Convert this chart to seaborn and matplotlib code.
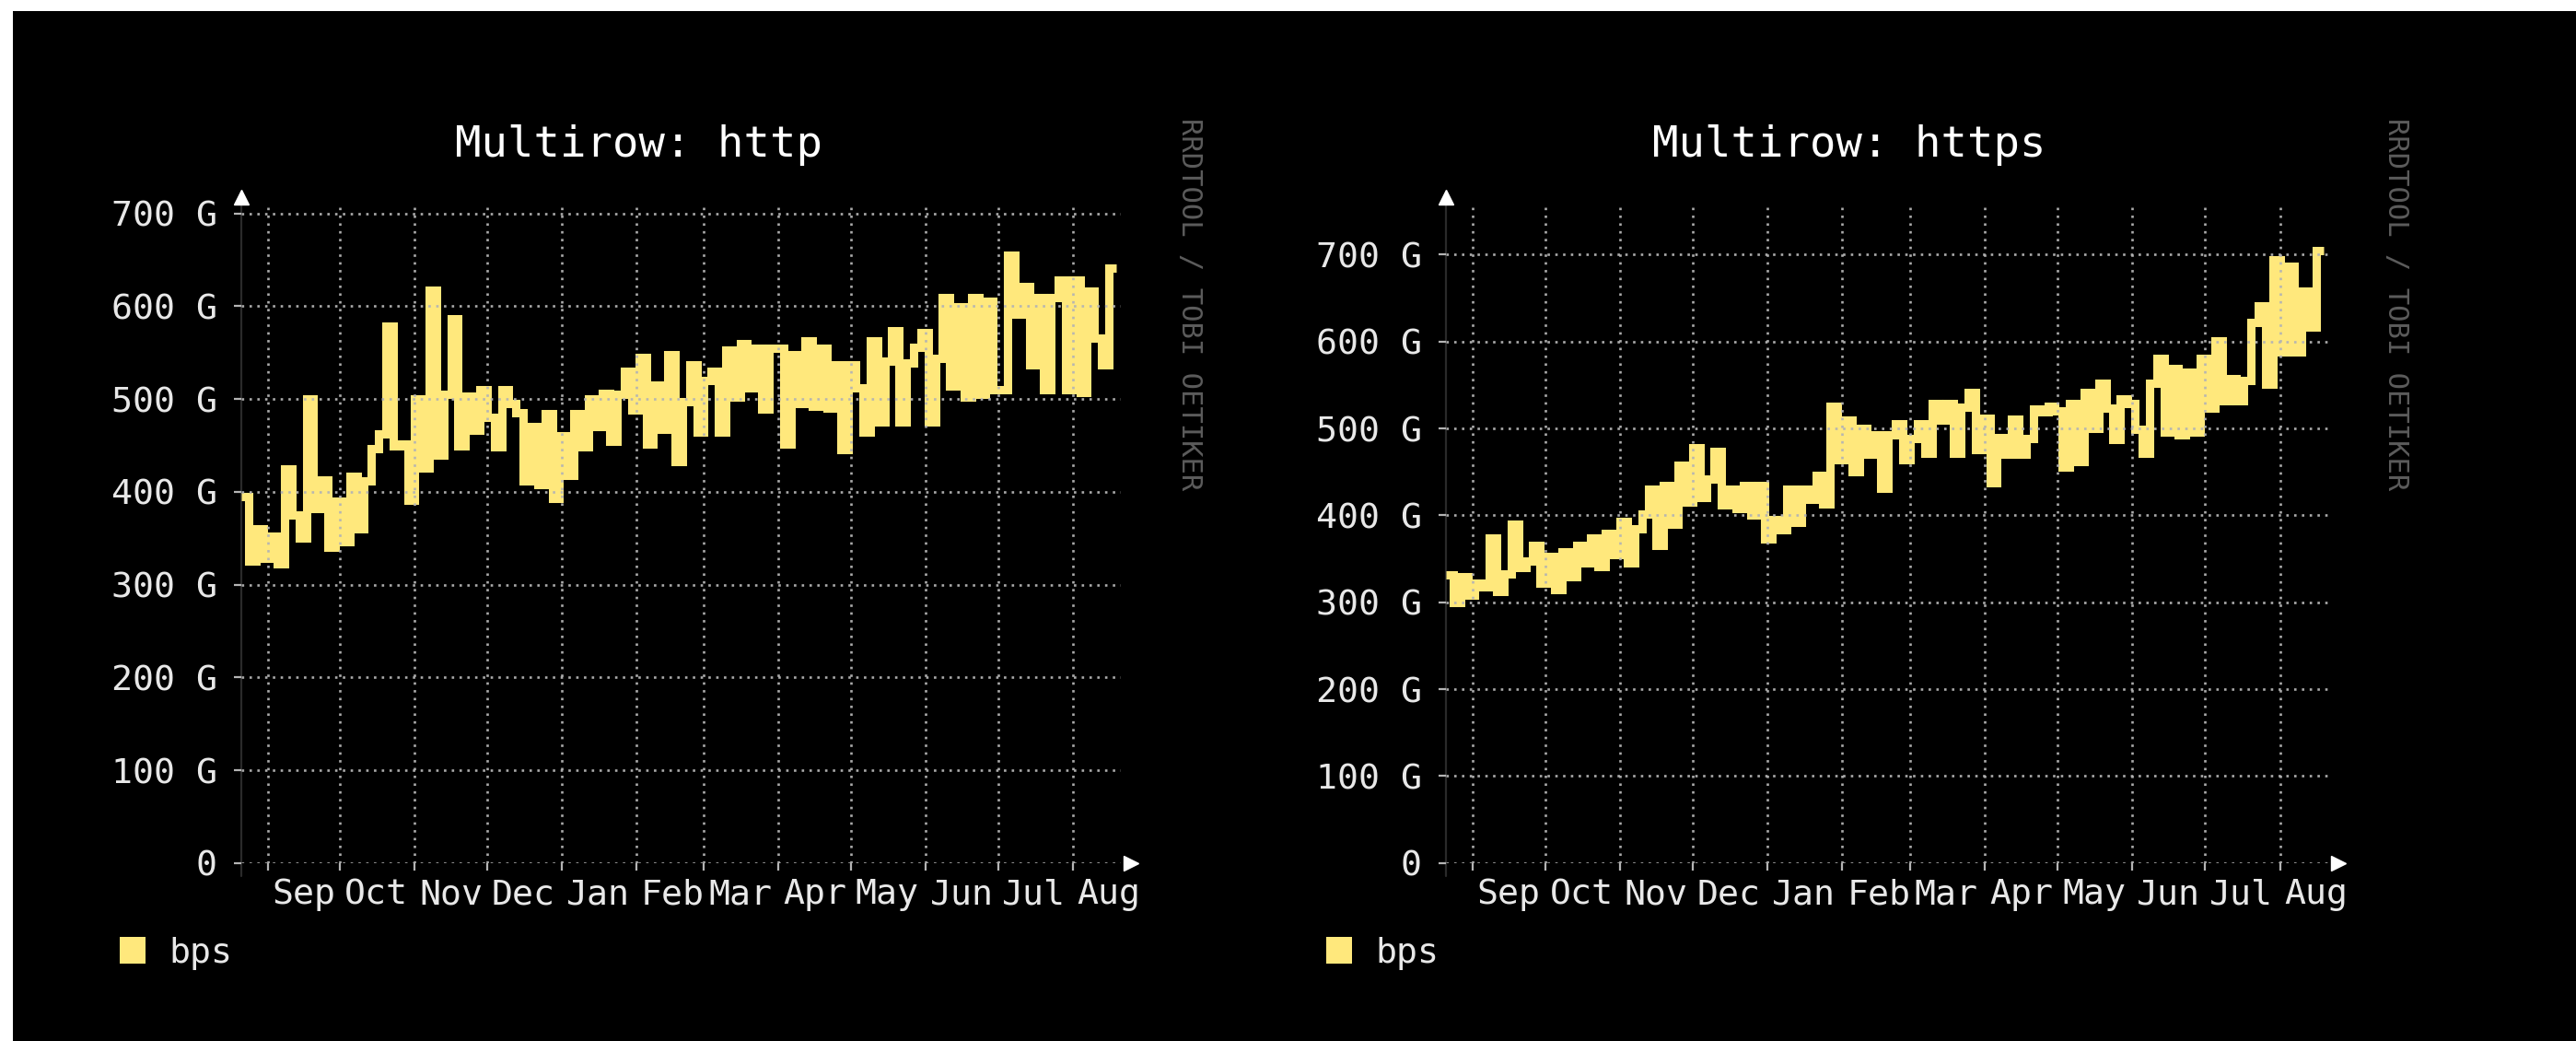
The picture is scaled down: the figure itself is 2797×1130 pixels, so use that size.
import pandas as pd
import seaborn as sns
import matplotlib.pyplot as plt
import matplotlib.dates as mdates
from matplotlib.patches import Patch, Rectangle
from matplotlib.ticker import FuncFormatter, NullFormatter

# --- data (values in G bit/s, one value per 3 days) ---
START = '2013-08-21'
END = '2014-08-21'
STEP = '3D'

HTTP_BPS = [
    395, 325, 360, 328, 352, 322, 425, 375, 350, 500,
    382, 413, 340, 390, 346, 417, 360, 412, 447, 462,
    579, 450, 452, 391, 500, 426, 617, 440, 505, 587,
    450, 503, 466, 510, 480, 449, 510, 495, 485, 412,
    470, 408, 484, 393, 460, 418, 484, 449, 500, 470,
    506, 455, 505, 530, 488, 545, 452, 515, 467, 548,
    433, 497, 537, 464, 520, 530, 464, 553, 502, 560,
    512, 555, 489, 555, 555, 452, 548, 495, 563, 492,
    555, 490, 537, 446, 537, 512, 464, 563, 475, 541,
    574, 475, 539, 556, 572, 475, 544, 609, 514, 599,
    502, 609, 505, 605, 510, 510, 655, 592, 621, 537,
    609, 510, 609, 628, 510, 628, 507, 616, 566, 537,
    641,
]

HTTPS_BPS = [
    332, 300, 330, 308, 322, 318, 374, 312, 333, 390,
    340, 347, 365, 322, 353, 315, 358, 330, 365, 345,
    374, 341, 379, 355, 393, 345, 385, 402, 430, 365,
    434, 390, 458, 415, 478, 421, 442, 474, 412, 430,
    408, 434, 400, 434, 373, 395, 384, 430, 392, 430,
    418, 446, 413, 526, 464, 510, 450, 500, 470, 493,
    431, 493, 505, 464, 488, 505, 472, 529, 510, 529,
    472, 524, 541, 476, 512, 438, 490, 470, 511, 470,
    488, 522, 519, 526, 520, 456, 529, 462, 541, 500,
    552, 523, 487, 534, 529, 499, 472, 552, 581, 496,
    569, 493, 565, 496, 581, 523, 601, 532, 557, 532,
    555, 622, 641, 551, 694, 588, 687, 588, 658, 617,
    705,
]

TITLES = ['Multirow: http', 'Multirow: https']
Y_TOPS = [709, 757]
Y_TICKS = [0, 100, 200, 300, 400, 500, 600, 700]
LEGEND_LABEL = 'bps'
WATERMARK = 'RRDTOOL / TOBI OETIKER'

# --- style ---
W, H = 2797, 1130
YELLOW = '#ffe87c'
GRID = '#b4b4b4'
TEXT = '#e8e8e8'
FONT = ['DejaVu Sans Mono', 'DejaVu Sans']

# pixel layout of each rrd panel: axes box, title centre, watermark x, legend x
PANEL_BOX = [(262, 1217), (1570, 2528)]
AX_TOP, AX_BOTTOM = 222.7, 936.8
TITLE_X = [694, 2008]
TITLE_Y = 158
MARK_X = [1292, 2602]
MARK_TOP = 128
LEGEND_X = [130, 1440]
LEGEND_TOP = 1017

sns.set_style('dark')
plt.rcParams['font.family'] = FONT

fig = plt.figure(figsize=(W / 100, H / 100), dpi=100)
fig.patch.set_facecolor('white')
fig.patches.append(Rectangle((14 / W, 0), 1, 1 - 12 / H, transform=fig.transFigure,
                             facecolor='black', edgecolor='none', zorder=-10))


def y_label(v, pos):
    return '0' if v == 0 else f'{int(v)} G'


for i, values in enumerate([HTTP_BPS, HTTPS_BPS]):
    x0, x1 = PANEL_BOX[i]
    ax = fig.add_axes([x0 / W, 1 - AX_BOTTOM / H, (x1 - x0) / W, (AX_BOTTOM - AX_TOP) / H])
    ax.set_facecolor('black')

    df = pd.DataFrame({'date': pd.date_range(START, periods=len(values), freq=STEP),
                       'bps': values})
    # repeat the last value so the final step gets its width
    tail = df.iloc[[-1]].copy()
    tail['date'] = tail['date'] + pd.Timedelta(STEP)
    df = pd.concat([df, tail], ignore_index=True)

    sns.lineplot(data=df, x='date', y='bps', ax=ax, color=YELLOW, linewidth=6.5,
                 drawstyle='steps-post', solid_joinstyle='miter', solid_capstyle='butt',
                 zorder=2)

    ax.set_xlim(pd.Timestamp(START), pd.Timestamp(END))
    ax.set_ylim(0, Y_TOPS[i])
    ax.set_xlabel('')
    ax.set_ylabel('')

    ax.xaxis.set_major_locator(mdates.MonthLocator(bymonthday=1))
    ax.xaxis.set_major_formatter(NullFormatter())
    ax.xaxis.set_minor_locator(mdates.MonthLocator(bymonthday=16))
    ax.xaxis.set_minor_formatter(mdates.DateFormatter('%b'))
    ax.set_yticks(Y_TICKS)
    ax.yaxis.set_major_formatter(FuncFormatter(y_label))

    ax.tick_params(which='major', length=6, width=1.6, color=GRID, labelsize=27.5,
                   labelcolor=TEXT, pad=13)
    ax.tick_params(axis='x', which='minor', length=0, labelsize=27.5, labelcolor=TEXT, pad=12)
    ax.tick_params(axis='x', which='major', bottom=True, labelbottom=False)
    ax.tick_params(axis='y', which='major', left=True)

    ax.set_axisbelow(False)
    ax.grid(True, which='major', color=GRID, linestyle=(0, (1, 2.2)), linewidth=1.9, alpha=0.95)
    for side in ax.spines.values():
        side.set_visible(False)

    # rrdtool style axis line with arrows
    ax.axvline(pd.Timestamp(START), ymin=-0.02, ymax=1.0, color='#2a2a2a', linewidth=1.6,
               clip_on=False, zorder=1)
    ax.plot([0], [1.012], marker='^', markersize=12, color='white', transform=ax.transAxes,
            clip_on=False, zorder=5)
    ax.plot([1.012], [0], marker='>', markersize=12, color='white', transform=ax.transAxes,
            clip_on=False, zorder=5)

    leg = ax.legend(handles=[Patch(facecolor=YELLOW, edgecolor='none', label=LEGEND_LABEL)],
                    loc='upper left', bbox_to_anchor=(LEGEND_X[i] / W, 1 - LEGEND_TOP / H),
                    bbox_transform=fig.transFigure, frameon=False, borderpad=0,
                    borderaxespad=0, handlelength=0.72, handleheight=0.8,
                    handletextpad=0.68, prop={'family': FONT, 'size': 27.5})
    for t in leg.get_texts():
        t.set_color(TEXT)

    fig.text(TITLE_X[i] / W, 1 - TITLE_Y / H, TITLES[i], ha='center', va='center',
             color='white', fontsize=34, family=FONT)
    fig.text(MARK_X[i] / W, 1 - MARK_TOP / H, WATERMARK, rotation=270, ha='center',
             va='top', color='#5c5c5c', fontsize=22, family=FONT)

fig.savefig('out.png', dpi=100, facecolor=fig.get_facecolor())
